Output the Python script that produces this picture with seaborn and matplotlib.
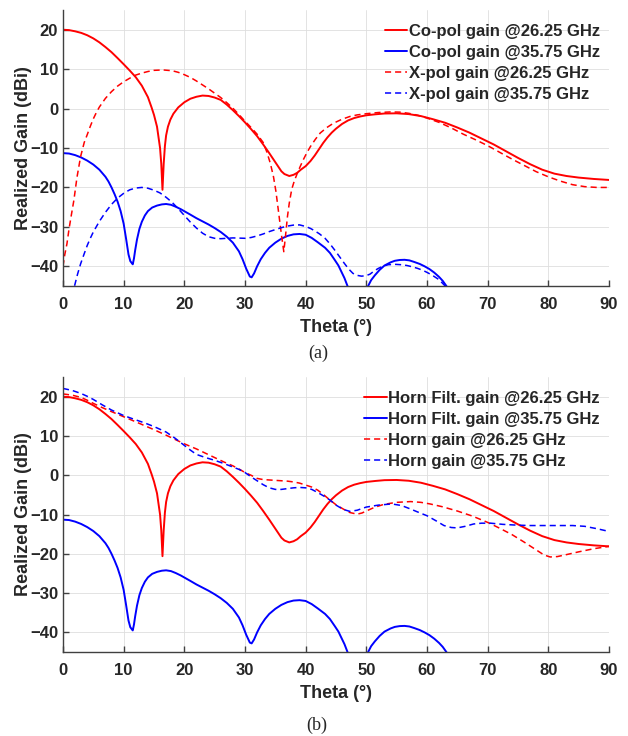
import matplotlib
matplotlib.use("Agg")
import matplotlib.pyplot as plt
import seaborn as sns

# Co-pol / Horn Filt. gain @26.25 GHz (red solid, same in both panels)
theta_co26 = [0, 1, 2, 3, 4, 5, 6, 7, 8, 9, 10, 11, 12, 13, 14, 14.6, 15, 15.5, 16, 16.2, 16.4,
              16.6, 16.8, 17, 17.3, 17.7, 18.2, 19, 20, 21, 22, 23, 24, 25, 26, 27, 28, 29, 30, 31, 32,
              33, 34, 35, 36, 36.5, 37.3, 38, 38.6, 39.2, 40, 40.8, 41.5, 42.2, 42.9, 43.6, 44.3, 45, 46,
              47, 48, 49, 50, 51.5, 53, 55, 57, 59, 61, 63, 65, 67, 69, 71, 73, 75, 77, 79, 81, 83, 85,
              87.5, 90]
gain_co26 = [20, 19.9, 19.6, 19.2, 18.6, 17.8, 16.8, 15.6, 14.3, 12.8, 11.25, 9.65, 7.95, 5.8, 2.9, 0.3, -1.6, -4.6, -10, -14, -20.6,
             -14, -9.5, -6.8, -4.6, -2.8, -1.3, 0.3, 1.6, 2.5, 3.0, 3.3, 3.2, 2.8, 2.2, 1.0, -0.4, -1.9, -3.5, -5.2, -7.0,
             -9.1, -11.3, -13.6, -15.9, -16.6, -17.1, -16.8, -16.3, -15.5, -14.6, -13.3, -11.9, -10.3, -8.7, -7.3, -6.1, -5.1, -3.9,
             -3.0, -2.4, -2.0, -1.7, -1.45, -1.25, -1.2, -1.4, -1.9, -2.7, -3.6, -4.8, -6.1, -7.6, -9.1, -10.8, -12.5, -14.1, -15.5, -16.5, -17.1, -17.5,
             -17.85, -18.1]

# X-pol gain @26.25 GHz (red dashed, panel a)
theta_x26 = [0, 0.3, 0.65, 1, 1.4, 1.8, 2.3, 2.9, 3.5, 4, 4.5, 5, 5.5, 6, 7, 8, 9, 10, 11, 12, 13, 14, 15,
             16.5, 18, 19, 20, 21, 22, 23, 24, 25, 26, 27, 28, 29, 30, 31, 32, 33, 33.6, 34.2, 34.7, 35.1,
             35.5, 35.8, 36.1, 36.4, 36.7, 37, 37.3, 37.7, 38.1, 38.6, 39.1, 39.6, 40.2, 40.8, 41.6, 42.4,
             43.5, 44.6, 46, 47.3, 48.5, 50, 52, 54, 55.5, 57, 58.5, 60, 62, 64, 66, 68, 70, 72, 74, 76,
             78, 80, 82, 84, 86, 88, 90]
gain_x26 = [-40, -37, -34.3, -30.5, -26.8, -23.2, -17.5, -12.2, -8.6, -6.6, -4.5, -2.6, -1.0, 0.4, 2.6, 4.3, 5.7, 6.8, 7.7, 8.5, 9.0, 9.4, 9.7,
            9.8, 9.6, 9.2, 8.6, 7.9, 7.0, 6.0, 5.0, 3.9, 2.8, 1.5, 0.1, -1.5, -3.2, -4.8, -6.5, -8.6, -11, -14, -17.3, -21,
            -25.8, -29.5, -33, -36.3, -32, -27.4, -24, -20.5, -18.5, -16.5, -14.7, -13, -11.2, -9.6, -7.8, -6.2,
            -4.8, -3.7, -2.7, -2.0, -1.6, -1.3, -1.0, -0.85, -0.9, -1.2, -1.7, -2.4, -3.5, -4.9, -6.5, -7.9, -9.4, -11.1, -12.8, -14.4,
            -16.0, -17.3, -18.4, -19.3, -19.8, -20.0, -20.0]

# Co-pol / Horn Filt. gain @35.75 GHz (blue solid, same in both panels)
theta_co35 = [0, 1, 2, 3, 4, 5, 6, 7, 7.5, 8, 8.5, 9, 9.5, 10, 10.4, 10.8, 11.1, 11.3, 11.5, 11.7, 11.9,
              12.2, 12.6, 13, 13.5, 14, 14.7, 15.5, 16.3, 17, 17.8, 18.6, 19.4, 20.2, 21, 22, 23, 24, 25,
              26, 27, 28, 29, 29.6, 30.2, 30.8, 31.1, 31.5, 32, 32.6, 33.3, 34, 35, 36, 37, 38, 39, 40,
              41, 42, 43.2, 44, 44.8, 45.4, 45.9, 46.4, 46.9, 47.5, 48.5, 49.5, 50.3, 50.8, 51.4, 52.2,
              53, 54, 54.7, 55.5, 56.3, 57.1, 57.9, 58.8, 59.6, 60.4, 61.2, 62, 62.6, 63.2, 64, 66, 70,
              75, 80, 85, 90]
gain_co35 = [-11.3, -11.4, -11.8, -12.4, -13.2, -14.2, -15.5, -17.3, -18.5, -20.0, -21.7, -23.6, -26, -29.2, -33, -37, -38.7, -39.1, -39.5, -38, -35.9,
             -33.2, -30.5, -28.7, -27.1, -26, -25.1, -24.6, -24.3, -24.2, -24.4, -24.9, -25.5, -26.2, -26.9, -27.8, -28.6, -29.4, -30.3,
             -31.3, -32.5, -34.0, -36.2, -38.2, -40.6, -42.6, -42.8, -41.8, -40.0, -38.2, -36.6, -35.3, -34.0, -33.0, -32.3, -31.9, -31.8, -32.0,
             -32.8, -33.9, -35.3, -36.6, -38.4, -39.8, -41.4, -43.0, -45, -47.5, -52, -49, -45, -43.5, -42.3, -40.9,
             -39.8, -39.0, -38.6, -38.4, -38.35, -38.5, -38.9, -39.4, -40, -40.7, -41.6, -42.7, -43.7, -45, -47, -52, -58,
             -62, -65, -66, -66]

# X-pol gain @35.75 GHz (blue dashed, panel a)
theta_x35 = [0, 1, 1.9, 2.4, 2.9, 3.5, 4, 4.5, 5, 6, 7, 8, 9, 10, 11, 12, 13, 14, 15, 16, 17, 18, 19, 20,
             21, 22, 23, 24, 25, 26, 27, 28, 29, 30, 31, 32, 33, 34, 35, 36, 37, 38, 39, 40, 40.8, 41.5,
             42.3, 43.2, 44, 44.8, 45.6, 46.4, 47.1, 47.8, 48.5, 49.2, 49.9, 50.6, 51.2, 51.9, 52.7, 53.6,
             54.7, 55.8, 56.7, 57.5, 58.4, 59.3, 60.2, 61, 62, 63, 64, 66, 70, 75, 80, 85, 90]
gain_x35 = [-60, -52, -45, -42, -39.4, -36.8, -34.7, -32.9, -31.3, -28.6, -26.3, -24.3, -22.7, -21.5, -20.6, -20.15, -20.0, -20.2, -20.7, -21.4, -22.5, -23.8, -25.4, -27.1,
            -28.8, -30.3, -31.6, -32.5, -32.9, -33.0, -32.9, -32.8, -32.85, -32.9, -32.7, -32.3, -31.8, -31.2, -30.7, -30.2, -29.8, -29.55, -29.5, -29.9, -30.4, -31.0,
            -31.8, -32.9, -34.3, -35.9, -37.6, -39.3, -40.7, -41.8, -42.3, -42.5, -42.4, -42.0, -41.3, -40.6, -40.0, -39.6,
            -39.5, -39.6, -39.8, -40.1, -40.5, -41.0, -41.7, -42.4, -43.4, -45, -47, -50, -55, -60, -63, -65, -66]

# Horn gain @26.25 GHz (red dashed, panel b)
theta_h26 = [0, 1.5, 3, 4, 5, 6.5, 8, 10, 12, 13.5, 15, 17, 18.5, 20, 22, 23.5, 25, 26.5, 28, 29, 30, 31, 32,
             33, 35, 37, 38, 39, 40, 41, 42, 43, 44, 45, 46.2, 47.3, 48.5, 49.3, 50, 51.3, 52.9, 55, 57.3,
             59, 60.5, 62.5, 65, 67.5, 70, 72, 74, 76, 78, 79.3, 80.3, 81.5, 83, 85, 87.5, 90]
gain_h26 = [20.7, 20.4, 19.8, 19.1, 18.3, 17.2, 16.2, 14.9, 13.6, 12.6, 11.6, 10.2, 9.1, 8.0, 6.7, 5.6, 4.5, 3.4, 2.4, 1.6, 0.7, 0.0, -0.8,
            -1.1, -1.3, -1.5, -1.7, -2.0, -2.5, -3.0, -3.8, -5.0, -6.3, -7.5, -8.6, -9.5, -9.9, -9.6, -9.1, -8.2, -7.4, -6.9, -6.7,
            -6.9, -7.3, -8.0, -9.1, -10.4, -12.0, -13.5, -15.1, -17.0, -19.0, -20.3, -20.8, -20.7, -20.2, -19.5, -18.7, -18.1]

# Horn gain @35.75 GHz (blue dashed, panel b)
theta_h35 = [0, 1.5, 3, 4, 5, 6.5, 8, 10, 12, 13.5, 15, 17, 18.5, 20, 21, 22, 23.5, 25, 26.5, 28, 29, 30, 31,
             32, 33, 34, 35, 36, 37, 38, 39, 40, 41, 42, 43, 44, 45, 46.2, 47.3, 48.5, 50, 52, 54.2, 55.8,
             57.3, 58.7, 60, 61.5, 62.8, 64, 65, 66.3, 67.7, 69, 70.5, 72.5, 74.8, 77, 80, 84, 86, 88, 90]
gain_h35 = [22.1, 21.6, 20.8, 20.1, 19.3, 17.9, 16.6, 15.2, 14.1, 13.3, 12.4, 11.0, 9.4, 7.6, 6.4, 5.3, 4.5, 3.8, 3.0, 2.1, 1.5, 0.7, -0.4,
            -1.4, -2.4, -3.2, -3.6, -3.6, -3.4, -3.2, -3.1, -3.2, -3.6, -4.4, -5.3, -6.3, -7.6, -8.7, -9.2, -8.9, -8.1, -7.6, -7.3, -7.7,
            -8.6, -9.5, -10.3, -11.6, -12.8, -13.3, -13.4, -13.0, -12.4, -12.2, -12.2, -12.5, -12.7, -12.8, -12.8, -12.8, -13.0, -13.6, -14.3]

x_ticks = [0, 10, 20, 30, 40, 50, 60, 70, 80, 90]
y_ticks = [-40, -30, -20, -10, 0, 10, 20]

RED = "#FF0000"
BLUE = "#0000FF"
DASH = (0, (4, 2.6))

sns.set_style("ticks")
plt.rcParams["font.family"] = ["Liberation Sans", "DejaVu Sans"]
plt.rcParams["font.weight"] = "bold"

fig = plt.figure(figsize=(6.28, 7.36), dpi=100)
ax1 = fig.add_axes([0.1003, 0.6114, 0.8694, 0.3750])
ax2 = fig.add_axes([0.1003, 0.1141, 0.8694, 0.3736])

# Panel (a)
sns.lineplot(x=theta_co26, y=gain_co26, ax=ax1, color=RED, lw=1.4, sort=False, estimator=None,
             label="Co-pol gain @26.25 GHz")
sns.lineplot(x=theta_co35, y=gain_co35, ax=ax1, color=BLUE, lw=1.4, sort=False, estimator=None,
             label="Co-pol gain @35.75 GHz")
sns.lineplot(x=theta_x26, y=gain_x26, ax=ax1, color=RED, lw=1.1, sort=False, estimator=None,
             linestyle=DASH, label="X-pol gain @26.25 GHz")
sns.lineplot(x=theta_x35, y=gain_x35, ax=ax1, color=BLUE, lw=1.1, sort=False, estimator=None,
             linestyle=DASH, label="X-pol gain @35.75 GHz")

# Panel (b)
sns.lineplot(x=theta_co26, y=gain_co26, ax=ax2, color=RED, lw=1.4, sort=False, estimator=None,
             label="Horn Filt. gain @26.25 GHz")
sns.lineplot(x=theta_co35, y=gain_co35, ax=ax2, color=BLUE, lw=1.4, sort=False, estimator=None,
             label="Horn Filt. gain @35.75 GHz")
sns.lineplot(x=theta_h26, y=gain_h26, ax=ax2, color=RED, lw=1.1, sort=False, estimator=None,
             linestyle=DASH, label="Horn gain @26.25 GHz")
sns.lineplot(x=theta_h35, y=gain_h35, ax=ax2, color=BLUE, lw=1.1, sort=False, estimator=None,
             linestyle=DASH, label="Horn gain @35.75 GHz")

for ax in (ax1, ax2):
    ax.set_xlim(0, 90)
    ax.set_ylim(-45, 25)
    ax.set_xticks(x_ticks)
    ax.set_yticks(y_ticks)
    ax.grid(True, color="#dedede", lw=0.6)
    ax.set_axisbelow(True)
    for s in ("top", "right"):
        ax.spines[s].set_visible(False)
    for s in ("left", "bottom"):
        ax.spines[s].set_color("#404040")
        ax.spines[s].set_linewidth(1.0)
    ax.tick_params(axis="both", direction="in", length=4, width=1.0, color="#404040",
                   labelsize=12, labelcolor="#262626")
    ax.tick_params(axis="x", pad=8)
    ax.tick_params(axis="y", pad=3.5)
    for lab in ax.get_xticklabels() + ax.get_yticklabels():
        lab.set_fontweight("bold")
    ax.set_xlabel("Theta (°)", fontsize=13, fontweight="bold", color="#262626", labelpad=5)
    ax.set_ylabel("Realized Gain (dBi)", fontsize=13, fontweight="bold", color="#262626")
    ax.yaxis.set_label_coords(-0.057, 0.5)
    ax.legend(loc="upper right", bbox_to_anchor=(1.0, 0.982), frameon=False,
              prop={"size": 12, "weight": "bold"}, handlelength=1.35, handletextpad=0.1,
              labelspacing=0.36, borderaxespad=0.3, borderpad=0.25)

fig.text(0.507, 1 - 353 / 736, "(a)", ha="center", va="center", fontsize=13,
         family="Liberation Serif", fontweight="normal")
fig.text(0.505, 1 - 725 / 736, "(b)", ha="center", va="center", fontsize=13,
         family="Liberation Serif", fontweight="normal")

fig.savefig("out.png", dpi=100)
